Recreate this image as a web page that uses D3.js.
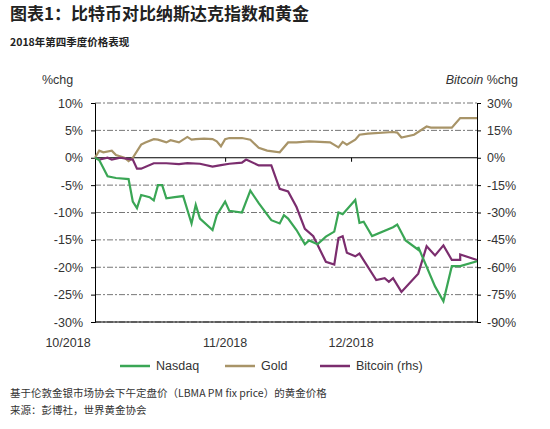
<!DOCTYPE html>
<html><head><meta charset="utf-8">
<script src="https://cdn.jsdelivr.net/npm/d3@7/dist/d3.min.js"></script>
<style>body{margin:0;background:#fff;font-family:"Noto Sans CJK SC","Noto Sans",sans-serif}</style>
</head><body><svg id="c" width="550" height="429"></svg>
<script>
// data: [day offset from 2018-10-01, value]
const nasdaqZX=[45,70,95,120,150,165,175,185,210,230,240,250,265,290,315,335,350,360,400,420,440,455,490,515,540,575,600,615,630,650,675,690,715,740,765,775,790,835,850,860,885,940,955,980,1020,1025,1065,1100,1125,1140,1190];
const nasdaqVals=[0,-0.4,-3.4,-3.7,-3.9,-8.0,-9.2,-6.8,-7.2,-7.8,-5.0,-5.0,-7.4,-7.2,-7.0,-12.0,-8.6,-11.1,-13.2,-10.5,-8.0,-9.7,-10.0,-6.0,-8.3,-11.4,-12.0,-10.5,-11.1,-13.2,-15.8,-15.1,-15.8,-14.4,-13.5,-10.0,-10.3,-7.7,-11.9,-11.7,-14.3,-12.7,-12.2,-15.1,-16.8,-16.3,-23.5,-26.2,-19.8,-19.8,-18.9];
const goldZX=[45,65,80,100,120,140,150,165,185,200,230,245,265,275,305,325,340,355,380,400,415,425,440,455,490,515,540,570,600,625,660,690,750,775,790,800,835,850,870,940,960,975,1010,1045,1060,1120,1150,1190];
const goldVals=[0,1.3,1.0,1.3,0.5,0,-0.6,0,2.4,2.8,3.4,3.3,2.8,3.2,2.8,3.8,3.3,3.4,3.5,3.4,3.0,2.1,3.4,3.6,3.6,3.3,1.8,1.3,1.0,2.8,2.8,3.0,2.8,1.9,2.9,2.4,3.3,4.2,4.4,4.7,4.6,3.7,4.2,5.7,5.5,5.5,7.25,7.25];
const btcZX=[45,70,90,100,130,160,175,190,230,270,300,330,360,400,430,460,490,510,540,585,605,625,660,675,710,745,765,780,790,800,835,850,890,920,935,945,975,1020,1045,1065,1100,1125,1140,1150,1190];
const btcVals=[0,-1,0,-1,0,-1,-6,-6,-3,-3,-3.5,-3,-3.3,-4.8,-4,-3.3,-2.7,-1,-4.2,-4.2,-17,-18.5,-27,-39,-43,-57,-58.5,-44,-43,-52,-54,-52.5,-67,-66,-68,-66,-73.5,-63.5,-48.5,-53.5,-48,-56,-56,-53,-56];
const leftTicks=[10,5,0,-5,-10,-15,-20,-25,-30];
const rightTicks=[30,15,0,-15,-30,-45,-60,-75,-90];
const xTickDates=["2018-10-01","2018-11-01","2018-12-01"];
const xTickLabels=["10/2018","11/2018","12/2018"];

const toDate=zx=>new Date(2018,9,1+(zx-45)*91/1145);
const svg=d3.select("#c");
const x=d3.scaleTime().domain([new Date(2018,9,1),new Date(2018,11,31)]).range([95,477]);
const yL=d3.scaleLinear().domain([-30,10]).range([322,103]);
const yR=d3.scaleLinear().domain([-90,30]).range([322,103]);
const txt="#333";

svg.append("text").attr("x",10).attr("y",20).attr("font-size",17).attr("font-weight","bold").attr("fill","#222").text("图表1：比特币对比纳斯达克指数和黄金");
svg.append("text").attr("x",10).attr("y",46).attr("font-size",10.5).attr("font-weight","bold").attr("fill","#222").text("2018年第四季度价格表现");
svg.append("text").attr("x",42).attr("y",84).attr("font-size",12.5).attr("fill",txt).attr("font-family","Liberation Sans").text("%chg");
svg.append("text").attr("x",518).attr("y",84).attr("font-size",12.5).attr("fill",txt).attr("text-anchor","end").attr("font-family","Liberation Sans").html('<tspan font-style="italic">Bitcoin</tspan> %chg');

// grid
leftTicks.forEach(t=>{ if(t!==0) svg.append("line").attr("x1",95).attr("x2",477).attr("y1",yL(t)).attr("y2",yL(t)).attr("stroke","#777").attr("stroke-width",1).attr("stroke-dasharray","6,2,2,2");});
svg.append("line").attr("x1",95).attr("x2",477).attr("y1",yL(0)).attr("y2",yL(0)).attr("stroke","#000").attr("stroke-width",1);

const axL=svg.append("g").attr("transform","translate(95,0)").call(d3.axisLeft(yL).tickValues(leftTicks).tickFormat(d=>d+"%").tickSize(4).tickPadding(3));
const axR=svg.append("g").attr("transform","translate(477,0)").call(d3.axisRight(yR).tickValues(rightTicks).tickFormat(d=>d+"%").tickSize(4).tickPadding(4));
[axL,axR].forEach(a=>{a.select(".domain").attr("stroke","#000");a.selectAll("text").attr("font-size",12.5).attr("fill",txt).attr("font-family","Liberation Sans");});
axL.selectAll("text").attr("x",-12);
axR.selectAll("text").attr("x",10);
const xd=xTickDates.map(d=>new Date(d+"T00:00"));
svg.append("g").attr("transform",`translate(0,${yL(0)})`).call(d3.axisBottom(x).tickValues(xd.slice(1).concat([new Date(2018,11,31)])).tickSize(4).tickFormat("")).select(".domain").remove();
svg.append("line").attr("x1",95).attr("x2",477).attr("y1",322).attr("y2",322).attr("stroke","#000");
xTickLabels.forEach((l,i)=>svg.append("text").attr("x",i===0?68:x(xd[i])).attr("y",347).attr("text-anchor","middle").attr("font-size",12.5).attr("fill",txt).attr("font-family","Liberation Sans").text(l));

const line=(zx,vals,ys)=>d3.line().x((d,i)=>x(toDate(zx[i]))).y(d=>ys(d))(vals);
const cG="#3aa655",cAu="#a89468",cB="#7b2d6e";
svg.append("path").attr("d",line(goldZX,goldVals,yL)).attr("fill","none").attr("stroke",cAu).attr("stroke-width",2.2);
svg.append("path").attr("d",line(btcZX,btcVals,yR)).attr("fill","none").attr("stroke",cB).attr("stroke-width",2.2);
svg.append("path").attr("d",line(nasdaqZX,nasdaqVals,yL)).attr("fill","none").attr("stroke",cG).attr("stroke-width",2.2);

const leg=[["Nasdaq",cG,120],["Gold",cAu,225],["Bitcoin (rhs)",cB,320]];
leg.forEach(([n,c,lx])=>{svg.append("line").attr("x1",lx).attr("x2",lx+30).attr("y1",366).attr("y2",366).attr("stroke",c).attr("stroke-width",2.5);
svg.append("text").attr("x",lx+36).attr("y",370).attr("font-size",12.5).attr("fill",txt).attr("font-family","Liberation Sans").text(n);});
svg.append("text").attr("x",10).attr("y",397).attr("font-size",10.5).attr("fill",txt).text("基于伦敦金银市场协会下午定盘价（LBMA PM fix price）的黄金价格");
svg.append("text").attr("x",10).attr("y",414).attr("font-size",10.5).attr("fill",txt).text("来源：彭博社，世界黄金协会");
</script></body></html>
